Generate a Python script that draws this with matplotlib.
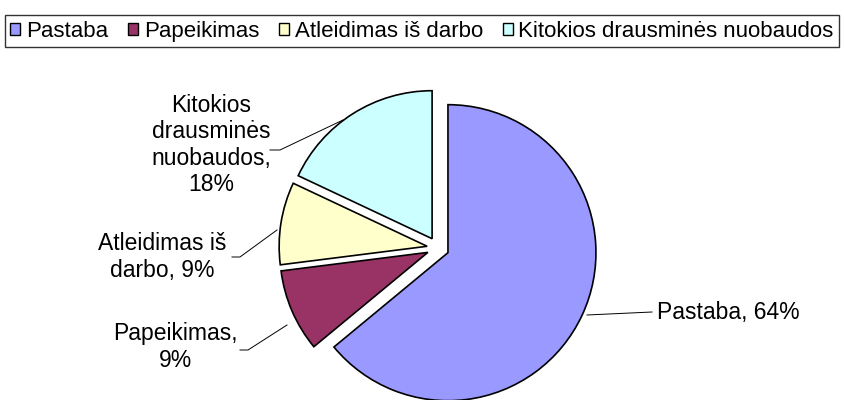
import matplotlib.pyplot as plt
from matplotlib.patches import Patch

plt.rcParams['font.family'] = ['Liberation Sans', 'DejaVu Sans']

# data
labels = ['Pastaba', 'Papeikimas', 'Atleidimas iš darbo', 'Kitokios drausminės nuobaudos']
values = [64, 9, 9, 18]
colors = ['#9999ff', '#993366', '#ffffcc', '#ccffff']
slice_labels = ['Pastaba, 64%', 'Papeikimas,\n9%', 'Atleidimas iš\ndarbo, 9%',
                'Kitokios\ndrausminės\nnuobaudos,\n18%']

W, H = 844, 400
fig = plt.figure(figsize=(W / 100, H / 100), dpi=100)
ax = fig.add_axes([0, 0, 1, 1])

cx, cy, r = 438, 248, 148
wedges, _ = ax.pie(values, colors=colors, startangle=90, counterclock=False,
                   center=(cx, -cy), radius=r, explode=[11] * 4,
                   wedgeprops=dict(edgecolor='black', linewidth=1.2))
# pie draws in y-up coords; flip them into our y-down axes
for w in wedges:
    w.set_center((w.center[0], -w.center[1]))
    t1, t2 = w.theta1, w.theta2
    w.set_theta1(-t2)
    w.set_theta2(-t1)
ax.set_xlim(0, W)
ax.set_ylim(H, 0)
ax.set_aspect('equal')
ax.axis('off')

fs = 16.5
# labels and leader lines
ax.text(657, 313, slice_labels[0], fontsize=fs, ha='left', va='center')
ax.plot([587, 652], [315, 312], color='black', lw=0.7)

ax.text(175, 347, slice_labels[1], fontsize=fs, ha='center', va='center')
ax.plot([240, 248, 287], [350, 350, 325], color='black', lw=0.7)

ax.text(162, 257, slice_labels[2], fontsize=fs, ha='center', va='center')
ax.plot([232, 240, 277], [257, 257, 230], color='black', lw=0.7)

ax.text(211, 145, slice_labels[3], fontsize=fs, ha='center', va='center')
ax.plot([270, 280, 343], [150, 150, 120], color='black', lw=0.7)

handles = [Patch(facecolor=c, edgecolor='black', linewidth=1) for c in colors]
leg = fig.legend(handles, labels, loc='upper center', bbox_to_anchor=(0.5, 0.962),
                 ncol=4, fontsize=16, frameon=True, fancybox=False,
                 handlelength=0.45, handleheight=0.45, handletextpad=0.25,
                 columnspacing=0.9, borderpad=0.25, borderaxespad=0)
leg.get_frame().set_edgecolor('black')
leg.get_frame().set_linewidth(1)

fig.savefig('out.png', dpi=100)
